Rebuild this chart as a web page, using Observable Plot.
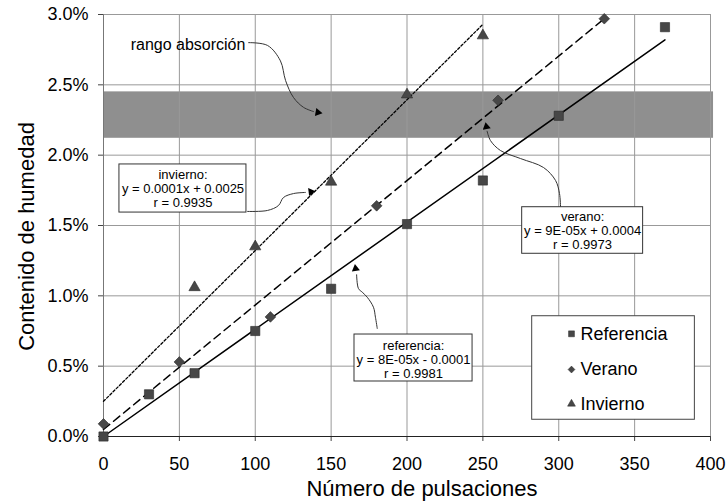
<!DOCTYPE html>
<html>
<head>
<meta charset="utf-8">
<script src="https://cdn.jsdelivr.net/npm/d3@7"></script>
<script src="https://cdn.jsdelivr.net/npm/@observablehq/plot@0.6"></script>
<style>
  html, body { margin: 0; padding: 0; background: #fff; }
  #chart { width: 728px; height: 504px; }
</style>
</head>
<body>
<div id="chart"></div>
<script>
// ---- axes ----
const xTicks = [0, 50, 100, 150, 200, 250, 300, 350, 400];
const yTicks = [0, 0.5, 1.0, 1.5, 2.0, 2.5, 3.0];
const xLabel = "Número de pulsaciones";
const yLabel = "Contenido de humedad";

// ---- series (percent) ----
const refX = [0, 30, 60, 100, 150, 200, 250, 300, 370];
const refY = [0.00, 0.30, 0.45, 0.75, 1.05, 1.51, 1.82, 2.28, 2.91];
const verX = [0, 50, 110, 180, 260, 330];
const verY = [0.09, 0.53, 0.85, 1.64, 2.39, 2.97];
const invX = [60, 100, 150, 200, 250];
const invY = [1.06, 1.35, 1.81, 2.43, 2.85];

// ---- trend lines (endpoints) ----
const refFitX = [0, 370], refFitY = [0.00, 2.82];
const verFitX = [0, 330], verFitY = [0.05, 2.97];
const invFitX = [0, 250], invFitY = [0.25, 2.93];

// ---- absorption band ----
const bandX = [0, 402];
const bandY = [2.12, 2.45];

// ---- legend ----
const legendLabels = ["Referencia", "Verano", "Invierno"];
const legendSymbols = ["square", "diamond2", "triangle"];
const legendR = [4.4, 3.8, 3.4];
const legendRowY = [0.73, 0.476, 0.232];
const legendMarkX = 308.4, legendTextX = 314.3;
const legendBoxX = [282.5, 389.7], legendBoxY = [0.119, 0.855];

// ---- annotations ----
const rangoText = "rango absorción";
const rangoPos = [55.7, 2.787];
const rangoPathX = [95.6, 108.1, 116.6, 120.0, 125.2, 131.8, 138.4];
const rangoPathY = [2.80, 2.78, 2.67, 2.53, 2.41, 2.34, 2.31];

const boxTexts = [
  "invierno:\ny = 0.0001x + 0.0025\nr = 0.9935",
  "verano:\ny = 9E-05x + 0.0004\nr = 0.9973",
  "referencia:\ny = 8E-05x - 0.0001\nr = 0.9981"
];
const boxX1 = [10.5, 275.9, 165.4];
const boxX2 = [94.2, 355.6, 243.2];
const boxY1 = [1.592, 1.299, 0.391];
const boxY2 = [1.934, 1.630, 0.725];
const boxTextX = [52.4, 315.7, 204.3];
const boxTextY = [1.763, 1.464, 0.547];

const invPathX = [94.9, 108.1, 115.3, 118.6, 125.2, 133.1];
const invPathY = [1.600, 1.607, 1.642, 1.699, 1.727, 1.735];
const verPathX = [301.2, 300.5, 297.9, 290.0, 274.8, 261.6, 255.0, 252.8];
const verPathY = [1.630, 1.727, 1.820, 1.912, 1.976, 2.033, 2.104, 2.170];
const refPathX = [180.4, 179.2, 177.9, 173.8, 170.5, 168.0, 166.8];
const refPathY = [0.768, 0.848, 0.919, 0.990, 1.026, 1.052, 1.150];

const headX = [141.3, 136.7, 252.3, 166.1];
const headY = [2.304, 1.740, 2.202, 1.194];
const headRot = [100, 83, 350, 352];

// ---- helpers ----
const pts = (xs, ys) => xs.map((x, i) => ({x, y: ys[i]}));

const markerFill = "#474747";
const markerStroke = "#2a2a2a";

const chart = Plot.plot({
  width: 728,
  height: 504,
  marginLeft: 103,
  marginRight: 18,
  marginTop: 14,
  marginBottom: 68,
  style: {fontFamily: "'Liberation Sans', Arial, sans-serif", fontSize: "18px", background: "#fff", color: "#000"},
  x: {domain: [0, 400], ticks: xTicks},
  y: {domain: [0, 3], ticks: yTicks},
  marks: [
    // band
    Plot.rect([0], {x1: bandX[0], x2: bandX[1], y1: bandY[0], y2: bandY[1], fill: "#8f8f8f"}),
    // grid
    Plot.ruleX(xTicks, {stroke: "#999", strokeWidth: 1}),
    Plot.ruleY(yTicks, {stroke: "#999", strokeWidth: 1}),
    // axes
    Plot.axisX({ticks: xTicks, tickSize: 5, tickPadding: 16, label: null, stroke: "#444", fontSize: 18}),
    Plot.axisY({ticks: yTicks, tickSize: 5, tickPadding: 10, label: null, stroke: "#444", fontSize: 18,
      tickFormat: d => d.toFixed(1) + "%"}),
    Plot.ruleY([0], {stroke: "#222", strokeWidth: 1.2}),
    Plot.ruleX([0], {stroke: "#777", strokeWidth: 1}),
    Plot.text([xLabel], {frameAnchor: "bottom", lineAnchor: "middle", textAnchor: "middle", dx: 15, dy: 52, fontSize: 22, fill: "#000"}),
    Plot.text([yLabel], {frameAnchor: "left", lineAnchor: "middle", textAnchor: "middle", rotate: -90, dx: -77, dy: 11, fontSize: 22, fill: "#000"}),
    // trend lines
    Plot.line(pts(refFitX, refFitY), {x: "x", y: "y", stroke: "#000", strokeWidth: 1.5}),
    Plot.line(pts(verFitX, verFitY), {x: "x", y: "y", stroke: "#000", strokeWidth: 1.5, strokeDasharray: "8,5"}),
    Plot.line(pts(invFitX, invFitY), {x: "x", y: "y", stroke: "#000", strokeWidth: 1.3, strokeDasharray: "2.5,2"}),
    // markers
    Plot.dot(pts(refX, refY), {x: "x", y: "y", symbol: "square", r: 5.2, fill: markerFill, stroke: markerStroke, strokeWidth: 0.6}),
    Plot.dot(pts(verX, verY), {x: "x", y: "y", symbol: "diamond2", r: 4.8, fill: markerFill, stroke: markerStroke, strokeWidth: 0.6}),
    Plot.dot(pts(invX, invY), {x: "x", y: "y", symbol: "triangle", r: 4.2, fill: markerFill, stroke: markerStroke, strokeWidth: 0.6}),
    // annotation curves
    Plot.line(pts(rangoPathX, rangoPathY), {x: "x", y: "y", curve: "catmull-rom", stroke: "#333", strokeWidth: 1}),
    Plot.line(pts(invPathX, invPathY), {x: "x", y: "y", curve: "catmull-rom", stroke: "#333", strokeWidth: 1}),
    Plot.line(pts(verPathX, verPathY), {x: "x", y: "y", curve: "catmull-rom", stroke: "#333", strokeWidth: 1}),
    Plot.line(pts(refPathX, refPathY), {x: "x", y: "y", curve: "catmull-rom", stroke: "#333", strokeWidth: 1}),
    Plot.dot(headX.map((x, i) => ({x, y: headY[i], r: headRot[i]})), {x: "x", y: "y", rotate: "r", symbol: "triangle", r: 3, fill: "#000", stroke: "none"}),
    // annotation boxes
    Plot.rect(boxTexts.map((t, i) => ({x1: boxX1[i], x2: boxX2[i], y1: boxY1[i], y2: boxY2[i]})),
      {x1: "x1", x2: "x2", y1: "y1", y2: "y2", fill: "#fff", stroke: "#333", strokeWidth: 1}),
    Plot.text(boxTexts.map((t, i) => ({t, x: boxTextX[i], y: boxTextY[i]})),
      {x: "x", y: "y", text: "t", fontSize: 13, lineHeight: 1.08, fill: "#000"}),
    Plot.text([rangoText], {x: rangoPos[0], y: rangoPos[1], fontSize: 16, fill: "#000"}),
    // legend
    Plot.rect([0], {x1: legendBoxX[0], x2: legendBoxX[1], y1: legendBoxY[0], y2: legendBoxY[1], fill: "#fff", stroke: "#444", strokeWidth: 1}),
    Plot.dot(legendLabels.map((l, i) => ({l, y: legendRowY[i], s: legendSymbols[i], r: legendR[i]})),
      {x: () => legendMarkX, y: "y", symbol: "s", r: "r", fill: markerFill, stroke: markerStroke, strokeWidth: 0.5}),
    Plot.text(legendLabels.map((l, i) => ({l, y: legendRowY[i]})),
      {x: () => legendTextX, y: "y", text: "l", textAnchor: "start", fontSize: 18, fill: "#000"})
  ]
});
document.getElementById("chart").appendChild(chart);
</script>
</body>
</html>
